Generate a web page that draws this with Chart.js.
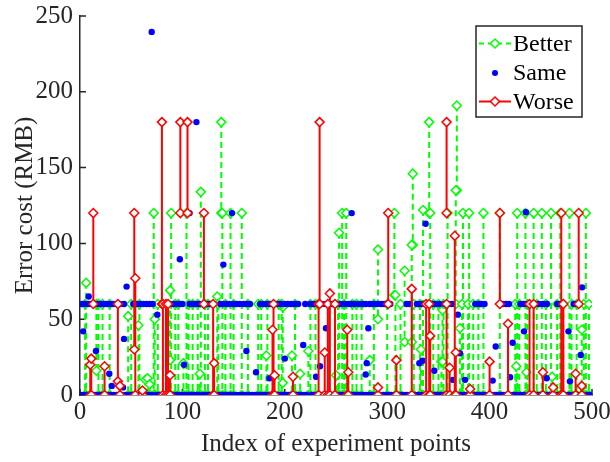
<!DOCTYPE html>
<html>
<head>
<meta charset="utf-8">
<script src="https://cdn.jsdelivr.net/npm/chart.js@4.4.0/dist/chart.umd.min.js"></script>
<style>
html, body { margin: 0; padding: 0; background: #fff; }
</style>
</head>
<body>
<canvas id="errChart" width="610" height="462"></canvas>
<script>
// series names, as in the legend
const seriesNames = ['Better', 'Same', 'Worse'];

// Better: cost went down (old -> new)
const betterIdx = [6, 16, 47, 57, 64, 66, 68, 72, 73, 88, 89, 101, 104, 117, 118, 134, 138, 139, 147, 158,
  174, 182, 198, 207, 215, 223, 250, 253, 256, 260, 283, 291, 307, 308, 317, 325, 324, 326, 333, 335,
  341, 342, 353, 354, 359, 368, 367, 371, 374, 380, 394, 410, 426, 427, 435, 436, 443, 451, 460, 461,
  469, 478, 490, 494,
  5, 18, 22, 29, 50, 58, 76, 93, 96, 106, 110, 115, 122, 125, 135, 142, 150, 164, 177, 183,
  194, 197, 210, 225, 230, 249, 252, 258, 266, 270, 275, 287, 300, 313, 332, 345, 350, 355, 373, 379,
  384, 389, 425, 429, 437, 446, 455, 466, 472, 480, 485, 492, 497];
const betterOld = [74, 60, 52, 46, 10, 11, 7, 120, 50, 69, 120, 21, 120, 14, 134, 65, 180, 120, 120, 120,
  60, 26, 58, 26, 14, 29, 13, 107, 120, 120, 23, 96, 120, 66, 82, 146, 99, 60, 30, 122,
  180, 120, 22, 56, 120, 191, 135, 44, 120, 120, 120, 120, 19, 120, 120, 15, 120, 120, 120, 12,
  120, 120, 43, 120,
  60, 60, 60, 60, 60, 60, 60, 60, 60, 60, 60, 60, 60, 60, 60, 60, 60, 60, 60, 60,
  60, 60, 60, 60, 60, 60, 60, 60, 60, 60, 60, 60, 60, 60, 60, 60, 60, 60, 60, 60,
  60, 60, 60, 60, 60, 60, 60, 60, 60, 60, 60, 60, 60];
const betterNew = [0, 16, 0, 0, 0, 0, 0, 0, 0, 23, 0, 0, 0, 0, 0, 0, 120, 0, 0, 0,
  0, 0, 8, 0, 0, 0, 0, 0, 0, 0, 0, 50, 66, 0, 35, 99, 35, 0, 0, 0,
  120, 0, 0, 22, 0, 135, 60, 0, 0, 0, 0, 0, 0, 0, 0, 0, 0, 0, 0, 0,
  0, 0, 0, 0,
  0, 0, 0, 0, 0, 0, 0, 0, 0, 0, 0, 0, 0, 0, 0, 0, 0, 0, 0, 0,
  0, 0, 0, 0, 0, 0, 0, 0, 0, 0, 0, 0, 0, 0, 0, 0, 0, 0, 0, 0,
  0, 0, 0, 0, 0, 0, 0, 0, 0, 0, 0, 0, 0];

// Worse: cost went up (old -> new)
const worseIdx = [10, 11, 13, 24, 37, 39, 53, 54, 61, 80, 81, 84, 86, 88, 98, 105, 121, 130, 131, 188,
  189, 190, 208, 233, 234, 239, 242, 244, 249, 261, 262, 291, 301, 309, 324, 338, 341, 342, 358, 358,
  361, 366, 367, 381, 400, 410, 418, 439, 443, 452, 462, 470, 472, 484, 487, 490];
const worseOld = [0, 0, 60, 0, 9, 0, 30, 0, 0, 60, 0, 0, 0, 0, 120, 120, 60, 0, 0, 0,
  0, 0, 0, 0, 60, 0, 0, 0, 0, 0, 0, 0, 60, 0, 0, 0, 0, 0, 120, 0,
  0, 0, 0, 0, 0, 60, 0, 0, 0, 0, 0, 0, 0, 0, 60, 0];
const worseNew = [20, 24, 120, 19, 60, 6, 120, 77, 3, 180, 60, 60, 60, 13, 180, 180, 120, 60, 21, 43,
  60, 13, 12, 60, 180, 28, 60, 67, 60, 43, 15, 5, 120, 23, 70, 60, 60, 39, 180, 60,
  18, 105, 28, 4, 22, 120, 47, 60, 60, 15, 5, 120, 60, 14, 120, 6];

// Same: cost unchanged
const sameZeroIdx = [1, 4, 7, 9, 12, 15, 19, 21, 25, 27, 30, 33, 36, 40, 42, 45, 48, 51, 55, 58,
  60, 63, 67, 70, 74, 77, 79, 83, 87, 90, 92, 95, 99, 102, 106, 108, 111, 114, 116, 120,
  123, 126, 128, 132, 136, 139, 141, 144, 147, 150, 153, 156, 159, 161, 165, 168, 171, 173, 176, 179,
  181, 185, 187, 191, 193, 196, 199, 202, 204, 206, 211, 213, 216, 219, 221, 226, 228, 231, 235, 237,
  240, 243, 246, 248, 251, 254, 257, 259, 263, 265, 268, 271, 273, 276, 279, 282, 285, 288, 290, 293,
  296, 299, 302, 304, 307, 311, 314, 316, 319, 322, 327, 330, 334, 337, 340, 344, 347, 349, 352, 356,
  360, 363, 365, 369, 372, 375, 378, 382, 385, 388, 391, 393, 396, 399, 402, 405, 407, 411, 414, 417,
  420, 423, 426, 430, 433, 438, 441, 444, 447, 449, 453, 456, 459, 464, 467, 471, 474, 477, 481, 483,
  486, 489, 492, 495, 498];
const sameSixtyIdx = [2, 5, 8, 11, 14, 17, 20, 23, 26, 29, 32, 35, 39, 43, 52, 55, 59, 62, 65, 68,
  71, 91, 94, 97, 100, 107, 110, 113, 116, 120, 124, 127, 130, 137, 140, 143, 146, 150, 153, 156,
  160, 163, 166, 176, 179, 182, 186, 190, 193, 196, 200, 203, 206, 210, 213, 220, 225, 228, 232, 236,
  240, 244, 247, 250, 254, 258, 262, 265, 268, 272, 276, 279, 283, 287, 290, 294, 297, 300, 303, 319,
  322, 329, 332, 336, 340, 344, 347, 351, 356, 360, 363, 386, 389, 392, 395, 410, 413, 416, 419, 430,
  433, 437, 440, 444, 448, 452, 456, 466, 469, 482, 485];
const sameOtherIdx = [3, 8.5, 15.6, 28.6, 31, 43, 42, 45.5, 70, 75.5, 97.5, 101.6, 107, 113.7, 140, 148.4,
  162.5, 171.9, 185, 200, 218, 230.5, 234.4, 240.2, 265.3, 280, 279, 281.6, 301.5, 331.4, 334.6, 337.5,
  346, 364, 369, 371, 376, 403, 406, 420, 422.5, 433.6, 435.5, 455.7, 477, 478.5, 489, 490.3];
const sameOtherVal = [42, 65, 29, 14, 6, 37, 5, 71.5, 239.5, 53, 89.5, 20, 120, 180, 86, 120,
  29, 15, 11, 24, 33, 12, 19, 44, 120, 21, 13.5, 44, 120, 21, 22.6, 113,
  16, 10, 53, 27.5, 10, 9.5, 32, 11.7, 34.5, 42, 120.5, 11, 42, 9, 26.4, 71];

// axis ticks
const xTicks = [0, 100, 200, 300, 400, 500];
const yTicks = [0, 50, 100, 150, 200, 250];

const serif = '"Liberation Serif", "Times New Roman", serif';
const axisColor = '#262626';
const green = '#00ff00';
const blue = '#0000ff';
const red = '#ff0000';

// vertical stem from old to new, null breaks the line
function stems(idx, from, to) {
    let pts = [];
    for (let i = 0; i < idx.length; i++) {
        pts.push({ x: idx[i], y: from[i] });
        pts.push({ x: idx[i], y: to[i] });
        pts.push({ x: idx[i], y: null });
    }
    return pts;
}

let samePts = [];
sameZeroIdx.forEach(i => samePts.push({ x: i, y: 0 }));
sameSixtyIdx.forEach(i => samePts.push({ x: i, y: 60 }));
sameOtherIdx.forEach((i, k) => samePts.push({ x: i, y: sameOtherVal[k] }));

// MATLAB-like inward tick marks
const inwardTicks = {
    id: 'inwardTicks',
    beforeDatasetsDraw(chart) {
        const { ctx, chartArea, scales } = chart;
        ctx.save();
        ctx.strokeStyle = axisColor;
        ctx.lineWidth = 1.5;
        ctx.beginPath();
        yTicks.forEach(v => {
            const py = scales.y.getPixelForValue(v);
            ctx.moveTo(chartArea.left, py);
            ctx.lineTo(chartArea.left + 6, py);
        });
        xTicks.forEach(v => {
            const px = scales.x.getPixelForValue(v);
            ctx.moveTo(px, chartArea.bottom);
            ctx.lineTo(px, chartArea.bottom - 6);
        });
        ctx.stroke();
        ctx.restore();
    }
};

function diamond(ctx, x, y, r, color) {
    ctx.beginPath();
    ctx.moveTo(x, y - r);
    ctx.lineTo(x + r, y);
    ctx.lineTo(x, y + r);
    ctx.lineTo(x - r, y);
    ctx.closePath();
    ctx.fillStyle = '#fff';
    ctx.fill();
    ctx.strokeStyle = color;
    ctx.lineWidth = 1.5;
    ctx.setLineDash([]);
    ctx.stroke();
}

// boxed legend with line + marker samples
const boxLegend = {
    id: 'boxLegend',
    afterDraw(chart) {
        const ctx = chart.ctx;
        const bx = 476, by = 26, bw = 106, bh = 91;
        const rows = [43.5, 73, 101.5];
        ctx.save();
        ctx.fillStyle = '#fff';
        ctx.fillRect(bx, by, bw, bh);
        ctx.strokeStyle = axisColor;
        ctx.lineWidth = 1.5;
        ctx.strokeRect(bx, by, bw, bh);

        // Better
        ctx.strokeStyle = green;
        ctx.lineWidth = 2;
        ctx.setLineDash([5, 4]);
        ctx.beginPath();
        ctx.moveTo(479, rows[0]);
        ctx.lineTo(511, rows[0]);
        ctx.stroke();
        diamond(ctx, 495, rows[0], 4.5, green);
        // Same
        ctx.fillStyle = blue;
        ctx.beginPath();
        ctx.arc(495, rows[1], 3, 0, Math.PI * 2);
        ctx.fill();
        // Worse
        ctx.strokeStyle = red;
        ctx.lineWidth = 2;
        ctx.setLineDash([]);
        ctx.beginPath();
        ctx.moveTo(479, rows[2]);
        ctx.lineTo(511, rows[2]);
        ctx.stroke();
        diamond(ctx, 495, rows[2], 4.5, red);

        ctx.fillStyle = '#000';
        ctx.font = '24px ' + serif;
        ctx.textBaseline = 'middle';
        ctx.textAlign = 'left';
        seriesNames.forEach((n, k) => ctx.fillText(n, 513, rows[k] + 1));
        ctx.restore();
    }
};

const config = {
    type: 'line',
    data: {
        datasets: [
            {
                label: seriesNames[0],
                data: stems(betterIdx, betterOld, betterNew),
                borderColor: green,
                borderWidth: 2,
                borderDash: [6, 4],
                pointStyle: 'rectRot',
                pointRadius: 4.5,
                pointBorderWidth: 1.5,
                pointBackgroundColor: '#fff',
                pointBorderColor: green,
                spanGaps: false,
                order: 2
            },
            {
                label: seriesNames[1],
                data: samePts,
                showLine: false,
                pointStyle: 'circle',
                pointRadius: 3.2,
                pointBorderWidth: 0,
                pointBackgroundColor: blue,
                pointBorderColor: blue,
                order: 1
            },
            {
                label: seriesNames[2],
                data: stems(worseIdx, worseOld, worseNew),
                borderColor: red,
                borderWidth: 2,
                pointStyle: 'rectRot',
                pointRadius: 4.5,
                pointBorderWidth: 1.5,
                pointBackgroundColor: '#fff',
                pointBorderColor: red,
                spanGaps: false,
                order: 0
            }
        ]
    },
    options: {
        responsive: false,
        animation: false,
        layout: { padding: { top: 16, right: 18, left: 0, bottom: 0 } },
        plugins: {
            legend: { display: false },
            tooltip: { enabled: false }
        },
        scales: {
            x: {
                type: 'linear',
                min: 0,
                max: 500,
                ticks: {
                    stepSize: 100,
                    color: axisColor,
                    padding: 2,
                    maxRotation: 0,
                    font: { family: serif, size: 25 }
                },
                grid: { display: false, drawTicks: false },
                border: { display: true, color: axisColor, width: 1.5 },
                title: {
                    display: true,
                    text: 'Index of experiment points',
                    color: axisColor,
                    font: { family: serif, size: 25 },
                    padding: { top: 0, bottom: 3 }
                },
                afterFit(s) {
                    s.height = 67;
                    s.paddingLeft = 0;
                    s.paddingRight = 0;
                }
            },
            y: {
                type: 'linear',
                min: 0,
                max: 250,
                ticks: {
                    stepSize: 50,
                    color: axisColor,
                    padding: 7,
                    font: { family: serif, size: 25 }
                },
                grid: { display: false, drawTicks: false },
                border: { display: true, color: axisColor, width: 1.5 },
                title: {
                    display: true,
                    text: 'Error cost (RMB)',
                    color: axisColor,
                    font: { family: serif, size: 25 },
                    padding: { top: 10, bottom: 0 }
                },
                afterFit(s) {
                    s.width = 80;
                    s.paddingTop = 0;
                    s.paddingBottom = 0;
                }
            }
        }
    },
    plugins: [inwardTicks, boxLegend]
};

var errChart = new Chart(document.getElementById('errChart'), config);
</script>
</body>
</html>
